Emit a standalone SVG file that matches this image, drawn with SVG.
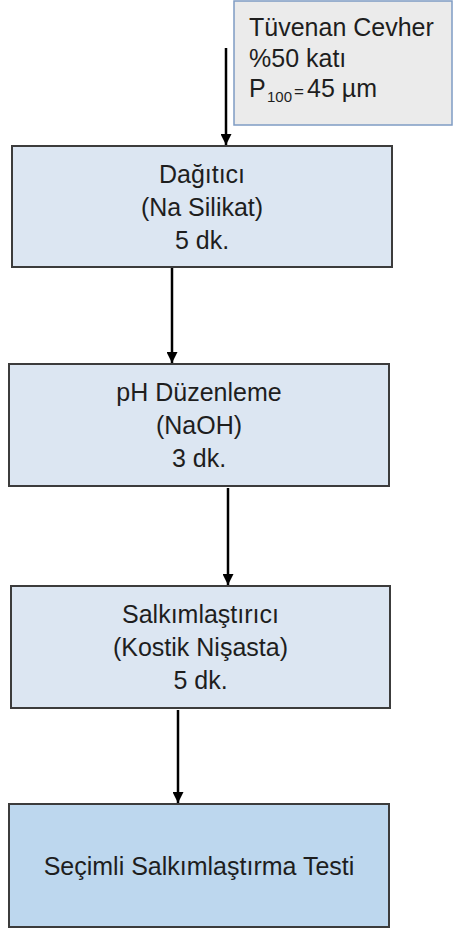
<svg xmlns="http://www.w3.org/2000/svg" width="453" height="935" viewBox="0 0 453 935">
<style>
  .box { fill:#dce6f2; stroke:#3c3c3c; stroke-width:2; }
  .final { fill:#bdd7ee; stroke:#3c3c3c; stroke-width:2; }
  .input { fill:#ebebeb; stroke:#7f9cc4; stroke-width:1.5; }
  text { font-family:"Liberation Sans", Arial, sans-serif; font-size:25px; fill:#1e1e1e; }
  .c { text-anchor:middle; }
  .conn { stroke:#000; stroke-width:2.5; fill:none; marker-end:url(#arr); }
</style>
<defs>
  <marker id="arr" viewBox="0 0 10 10" refX="10" refY="5" markerWidth="4.4" markerHeight="4.4" markerUnits="strokeWidth" orient="auto">
    <path d="M0,0 L10,5 L0,10 z" fill="#000"/>
  </marker>
</defs>
<rect width="453" height="935" fill="#fff"/>
<g id="connectors">
  <line class="conn" x1="226" y1="48" x2="226" y2="145"/>
  <line class="conn" x1="172" y1="268" x2="172" y2="363"/>
  <line class="conn" x1="228" y1="488" x2="228" y2="585"/>
  <line class="conn" x1="178" y1="710" x2="178" y2="803"/>
</g>
<g id="input">
  <rect class="input" x="234" y="1" width="218" height="124"/>
  <text x="249" y="36">Tüvenan Cevher</text>
  <text x="249" y="67">%50 katı</text>
  <text x="249" y="97">P<tspan x="267" dy="5" font-size="15">100</tspan><tspan x="294" dy="-5" font-size="17">=</tspan><tspan x="307">45 µm</tspan></text>
</g>
<g id="dagitici">
  <rect class="box" x="12" y="146" width="380" height="121"/>
  <text class="c" x="202" y="183">Dağıtıcı</text>
  <text class="c" x="202" y="216">(Na Silikat)</text>
  <text class="c" x="202" y="249">5 dk.</text>
</g>
<g id="ph">
  <rect class="box" x="9" y="364" width="380" height="122"/>
  <text class="c" x="199" y="401">pH Düzenleme</text>
  <text class="c" x="199" y="434">(NaOH)</text>
  <text class="c" x="199" y="467">3 dk.</text>
</g>
<g id="salkim">
  <rect class="box" x="11" y="586" width="379" height="122"/>
  <text class="c" x="200.5" y="623">Salkımlaştırıcı</text>
  <text class="c" x="200.5" y="656">(Kostik Nişasta)</text>
  <text class="c" x="200.5" y="689">5 dk.</text>
</g>
<g id="test">
  <rect class="final" x="9" y="804" width="380" height="123"/>
  <text class="c" x="199" y="875">Seçimli Salkımlaştırma Testi</text>
</g>
</svg>
